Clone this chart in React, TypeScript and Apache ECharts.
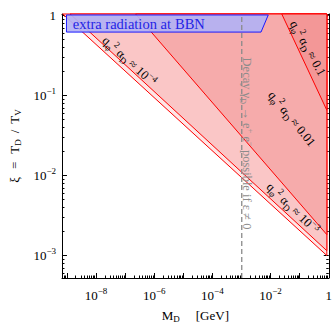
import React, { useEffect, useRef } from "react";
import * as echarts from "echarts";

const SERIF = "'Liberation Serif', 'Times New Roman', Times, serif";

// axis ranges, in log10 units
const logMassRange = [-9.17, 0];
const logXiRange = [-3.281, 0.018];

// tick values (decades)
const xLabelDecades = [-8, -6, -4, -2, 0];
const xTickDecades = [-9, -8, -7, -6, -5, -4, -3, -2, -1, 0];
const yLabelDecades = [-3, -2, -1, 0];
const yTickDecades = [-3, -2, -1, 0];
const minorMultipliers = [2, 3, 4, 5, 6, 7, 8, 9];

// region boundaries for q_phi^2 alpha_D values, end points [log10 M, log10 xi]
const regionEdgeLogM = -0.066;
const boundary1e4 = [[-9.143, 0.018], [-0.066, -3.0]];
const boundary1e3 = [[-8.89, 0.018], [-0.066, -2.94]];
const boundary1e2 = [[-6.64, 0.018], [-0.066, -2.739]];
const boundary1e1 = [[-1.615, 0.018], [-0.066, -1.184]];
const regionBoundaries = [boundary1e4, boundary1e3, boundary1e2, boundary1e1];
const regionFills = ["#fde6e6", "#fac6c6", "#f6abab", "#f39797"];

// extra radiation at BBN box [log10 M, log10 xi]
const bbnBox = [[-9.016, 0.006], [-2.079, 0.006], [-2.328, -0.208], [-9.016, -0.208]];
const bbnTextAt = [-8.8, -0.112];

// decay threshold M = 2 m_e
const logDecayThreshold = Math.log10(2 * 0.000511);

const sub = (t: string) => `{s|${t}}`;
const sup = (t: string) => `{u|${t}}`;
const couplingLabel = (v: string) =>
  `{t|q}${sub("φ")}${sup("2")}{t| α}${sub("D")}{t| ≈ }${v}`;

const regionLabels = [
  { text: couplingLabel(`{t|10}${sup("−4")}`), at: [-6.86, -0.57], rot: -0.735 },
  { text: couplingLabel(`{t|10}${sup("−3")}`), at: [-1.24, -2.41], rot: -0.77 },
  { text: couplingLabel("{t|0.01}"), at: [-1.27, -1.29], rot: -0.89 },
  { text: couplingLabel("{t|0.1}"), at: [-0.72, -0.41], rot: -1.065 },
];
const decayLabel =
  "{g|Decay γ}{gs|D}{g| → e}{gu|+}{g| e}{gu|−}{g| possible if ε ≠ 0}";
const decayLabelAt = [-2.8, -1.6];

function minors(decades: number[], range: number[]) {
  const out: number[] = [];
  decades.forEach((d) =>
    minorMultipliers.forEach((k) => {
      const v = d + Math.log10(k);
      if (v >= range[0] && v <= range[1]) out.push(v);
    })
  );
  return out;
}

const xMinor = minors([-10, -9, -8, -7, -6, -5, -4, -3, -2, -1, 0], logMassRange);
const yMinor = minors([-4, -3, -2, -1, 0], logXiRange);

const tickRich = {
  b: { fontSize: 13, fontFamily: SERIF, color: "#000", lineHeight: 18 },
  s: { fontSize: 9, fontFamily: SERIF, color: "#000", lineHeight: 10, verticalAlign: "top" as const },
};
const decadeFormatter = (v: number) => {
  const d = Math.round(v);
  return d === 0 ? "{b|1}" : `{b|10}{s|−${-d}}`;
};

const labelRich = {
  t: { fontSize: 12.5, fontFamily: SERIF, fill: "#000", lineHeight: 17 },
  s: { fontSize: 9, fontFamily: SERIF, fill: "#000", lineHeight: 10, verticalAlign: "bottom" },
  u: { fontSize: 9, fontFamily: SERIF, fill: "#000", lineHeight: 10, verticalAlign: "top" },
};
const decayRich = {
  g: { fontSize: 12.5, fontFamily: SERIF, fill: "#8c8c8c", lineHeight: 17 },
  gs: { fontSize: 8.5, fontFamily: SERIF, fill: "#8c8c8c", lineHeight: 9, verticalAlign: "bottom" },
  gu: { fontSize: 8.5, fontFamily: SERIF, fill: "#8c8c8c", lineHeight: 9, verticalAlign: "top" },
};
const bbnRich = {
  a: { fontSize: 14.5, fontFamily: SERIF, fill: "#2424e6", lineHeight: 18 },
  b: { fontSize: 14.5, fontFamily: SERIF, fill: "#2424e6", lineHeight: 18, padding: [0, 0, 0, 4] },
};

function makeX(position: "bottom" | "top", minor: boolean, withLabels: boolean) {
  return {
    type: "value",
    gridIndex: 0,
    position,
    min: logMassRange[0],
    max: logMassRange[1],
    axisLine: { show: !minor, onZero: false, lineStyle: { color: "#000", width: 1 } },
    splitLine: { show: false },
    axisTick: {
      show: true,
      inside: true,
      length: minor ? 2.5 : 5,
      customValues: minor ? xMinor : xTickDecades,
      lineStyle: { color: "#000", width: 1 },
    },
    axisLabel: withLabels
      ? { show: true, customValues: xLabelDecades, formatter: decadeFormatter, rich: tickRich, margin: 8 }
      : { show: false },
    ...(withLabels
      ? {
          name: "{n|M}{sub|D}{n2|[GeV]}",
          nameLocation: "middle",
          nameGap: 29,
          nameTextStyle: {
            rich: {
              n: { fontSize: 13, fontFamily: SERIF, color: "#000", lineHeight: 16 },
              sub: { fontSize: 9, fontFamily: SERIF, color: "#000", lineHeight: 9, verticalAlign: "bottom" },
              n2: { fontSize: 13, fontFamily: SERIF, color: "#000", lineHeight: 16, padding: [0, 0, 0, 16] },
            },
          },
        }
      : {}),
  };
}

function makeY(position: "left" | "right", minor: boolean, withLabels: boolean) {
  return {
    type: "value",
    gridIndex: 0,
    position,
    min: logXiRange[0],
    max: logXiRange[1],
    axisLine: { show: !minor, onZero: false, lineStyle: { color: "#000", width: 1 } },
    splitLine: { show: false },
    axisTick: {
      show: true,
      inside: true,
      length: minor ? 2.5 : 5,
      customValues: minor ? yMinor : yTickDecades,
      lineStyle: { color: "#000", width: 1 },
    },
    axisLabel: withLabels
      ? { show: true, customValues: yLabelDecades, formatter: decadeFormatter, rich: tickRich, margin: 6 }
      : { show: false },
    ...(withLabels
      ? {
          name: "{n|ξ}{op|=}{n|T}{sub|D}{op2|/}{n|T}{sub|V}",
          nameLocation: "middle",
          nameGap: 37,
          nameRotate: 90,
          nameTextStyle: {
            rich: {
              n: { fontSize: 13, fontFamily: SERIF, color: "#000", lineHeight: 16 },
              op: { fontSize: 13, fontFamily: SERIF, color: "#000", lineHeight: 16, padding: [0, 8, 0, 8] },
              op2: { fontSize: 13, fontFamily: SERIF, color: "#000", lineHeight: 16, padding: [0, 6, 0, 6] },
              sub: { fontSize: 9, fontFamily: SERIF, color: "#000", lineHeight: 9, verticalAlign: "bottom" },
            },
          },
        }
      : {}),
  };
}

export default function App() {
  const ref = useRef<HTMLDivElement>(null);
  useEffect(() => {
    if (!ref.current) return;
    const chart = echarts.init(ref.current, undefined, { renderer: "svg" });
    const renderItem = (_params: any, api: any) => {
      const c = (p: number[]) => api.coord(p);
      const top = logXiRange[1];
      const children: any[] = [];
      regionBoundaries.forEach((b, i) => {
        children.push({
          type: "polygon",
          shape: { points: [c(b[0]), c(b[1]), c([regionEdgeLogM, top])] },
          style: { fill: regionFills[i], stroke: "#ff0000", lineWidth: 1 },
        });
      });
      children.push({
        type: "polygon",
        shape: { points: bbnBox.map(c) },
        style: { fill: "rgba(178,177,243,0.92)", stroke: "#1a1aff", lineWidth: 1 },
      });
      const d0 = c([logDecayThreshold, logXiRange[0]]);
      const d1 = c([logDecayThreshold, logXiRange[1]]);
      children.push({
        type: "line",
        shape: { x1: d0[0], y1: d0[1], x2: d1[0], y2: d1[1] },
        style: { stroke: "#8a8a8a", lineWidth: 1.3, lineDash: [5, 3] },
      });
      const bt = c(bbnTextAt);
      children.push({
        type: "text",
        x: bt[0],
        y: bt[1],
        style: {
          text: "{a|extra radiation at}{b|BBN}",
          rich: bbnRich,
          align: "left",
          verticalAlign: "middle",
        },
      });
      regionLabels.forEach((l) => {
        const p = c(l.at);
        children.push({
          type: "text",
          x: p[0],
          y: p[1],
          rotation: l.rot,
          style: { text: l.text, rich: labelRich, align: "center", verticalAlign: "middle" },
        });
      });
      const dp = c(decayLabelAt);
      children.push({
        type: "text",
        x: dp[0],
        y: dp[1],
        rotation: -Math.PI / 2,
        style: { text: decayLabel, rich: decayRich, align: "center", verticalAlign: "middle" },
      });
      return { type: "group", children };
    };
    chart.setOption({
      animation: false,
      backgroundColor: "#fff",
      textStyle: { fontFamily: SERIF },
      grid: { left: 59.4, top: 14, right: 2.3, bottom: 41.5, containLabel: false },
      xAxis: [makeX("bottom", false, true), makeX("bottom", true, false), makeX("top", false, false), makeX("top", true, false)],
      yAxis: [makeY("left", false, true), makeY("left", true, false), makeY("right", false, false), makeY("right", true, false)],
      series: [
        {
          type: "custom",
          xAxisIndex: 0,
          yAxisIndex: 0,
          silent: true,
          clip: false,
          data: [[0, 0]],
          renderItem,
        },
      ],
    });
    return () => chart.dispose();
  }, []);
  return (
    <div
      ref={ref}
      style={{ position: "fixed", left: 0, top: 0, width: 335, height: 328, background: "#fff" }}
    />
  );
}
